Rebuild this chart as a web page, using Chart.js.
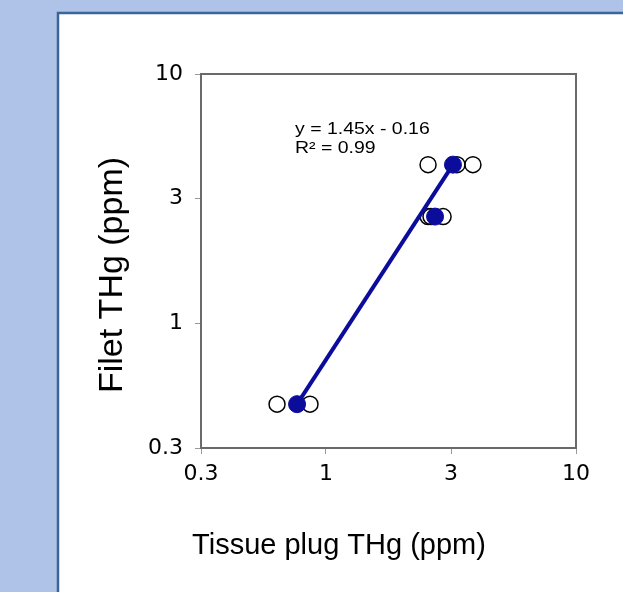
<!DOCTYPE html>
<html>
<head>
<meta charset="utf-8">
<script src="https://cdn.jsdelivr.net/npm/chart.js@4/dist/chart.umd.min.js"></script>
<style>
  html, body { margin: 0; padding: 0; background: #aec3e7; }
  #wrap { width: 623px; height: 592px; position: relative; }
</style>
</head>
<body>
<div id="wrap"><canvas id="c" width="623" height="592"></canvas></div>
<script>
// ---- data ----
const tickValues = [0.31623, 1, 3.1623, 10];
const tickLabels = ['0.3', '1', '3', '10'];

// individual measurements (open circles)
const plugX = [0.637, 0.863, 2.56, 2.63, 2.94, 2.56, 3.34, 3.87];
const filetY = [0.474, 0.474, 2.68, 2.68, 2.68, 4.33, 4.33, 4.33];

// means (filled circles)
const meanX = [0.766, 2.73, 3.22];
const meanY = [0.474, 2.68, 4.33];

// regression line endpoints
const fitX = [0.766, 3.22];
const fitY = [0.474, 4.33];

const eqLines = ['y = 1.45x - 0.16', 'R\u00B2 = 0.99'];
const xTitle = 'Tissue plug THg (ppm)';
const yTitle = 'Filet THg (ppm)';

const FONT = "'Liberation Sans', Arial, Helvetica, sans-serif";
const WIDEFONT = "'DejaVu Sans', Verdana, sans-serif";
const NAVY = '#0c0c9c';

const toPts = (xs, ys) => xs.map((x, i) => ({ x: x, y: ys[i] }));

const decor = {
  id: 'decor',
  beforeDraw(chart) {
    const ctx = chart.ctx;
    ctx.save();
    ctx.fillStyle = '#aec3e7';
    ctx.fillRect(0, 0, chart.width, chart.height);
    ctx.fillStyle = '#ffffff';
    ctx.fillRect(58, 13, chart.width, chart.height);
    ctx.strokeStyle = '#3b6499';
    ctx.lineWidth = 2.5;
    ctx.strokeRect(58, 13, chart.width + 10, chart.height + 10);
    ctx.restore();
  },
  afterDatasetsDraw(chart) {
    const ctx = chart.ctx;
    const a = chart.chartArea;
    ctx.save();
    ctx.strokeStyle = '#6a6a6a';
    ctx.lineWidth = 2;
    ctx.strokeRect(a.left, a.top, a.right - a.left, a.bottom - a.top);
    ctx.fillStyle = '#000';
    ctx.textBaseline = 'middle';
    // equation (wide lettering as in the reference)
    ctx.textAlign = 'left';
    ctx.save();
    ctx.translate(295, 129);
    ctx.scale(1.18, 1);
    ctx.font = '16.5px ' + FONT;
    ctx.fillText(eqLines[0], 0, 0);
    ctx.fillText(eqLines[1], 0, 19);
    ctx.restore();
    // axis titles
    ctx.textAlign = 'center';
    ctx.font = '29px ' + FONT;
    ctx.fillText(xTitle, 339, 546);
    ctx.save();
    ctx.translate(113, 275);
    ctx.rotate(-Math.PI / 2);
    ctx.font = '34px ' + FONT;
    ctx.fillText(yTitle, 0, 0);
    ctx.restore();
    ctx.restore();
  }
};

function fixedTicks(scale) {
  scale.ticks = tickValues.map(v => ({ value: v }));
  scale.min = tickValues[0];
  scale.max = tickValues[tickValues.length - 1];
}

const axisCommon = {
  type: 'logarithmic',
  bounds: 'data',
  min: tickValues[0],
  max: tickValues[tickValues.length - 1],
  afterBuildTicks: fixedTicks,
  border: { display: true, color: '#6a6a6a', width: 2 },
  grid: { drawOnChartArea: false, drawTicks: true, tickLength: 6, color: '#999999', lineWidth: 1 }
};

new Chart(document.getElementById('c'), {
  type: 'scatter',
  data: {
    datasets: [
      {
        label: 'Means',
        data: toPts(meanX, meanY),
        backgroundColor: NAVY,
        borderColor: NAVY,
        pointRadius: 8.5,
        borderWidth: 1,
        order: 0
      },
      {
        label: 'Fit',
        type: 'line',
        data: toPts(fitX, fitY),
        borderColor: NAVY,
        borderWidth: 4,
        pointRadius: 0,
        fill: false,
        order: 1
      },
      {
        label: 'Individual',
        data: toPts(plugX, filetY),
        backgroundColor: 'rgba(255,255,255,0)',
        borderColor: '#000000',
        pointRadius: 8,
        borderWidth: 1.5,
        order: 2
      }
    ]
  },
  options: {
    responsive: false,
    animation: false,
    events: [],
    layout: { padding: { left: 0, top: 74, right: 47, bottom: 0 } },
    plugins: { legend: { display: false }, tooltip: { enabled: false } },
    scales: {
      x: Object.assign({}, axisCommon, {
        afterFit(s) { s.height = 144; },
        ticks: {
          autoSkip: false,
          maxRotation: 0,
          padding: 7,
          color: '#000',
          font: { family: WIDEFONT, size: 22 },
          callback: (v, i) => tickLabels[i]
        }
      }),
      y: Object.assign({}, axisCommon, {
        afterFit(s) { s.width = 201; },
        ticks: {
          autoSkip: false,
          padding: 12,
          color: '#000',
          font: { family: WIDEFONT, size: 22 },
          callback: (v, i) => tickLabels[i]
        }
      })
    }
  },
  plugins: [decor]
});
</script>
</body>
</html>
